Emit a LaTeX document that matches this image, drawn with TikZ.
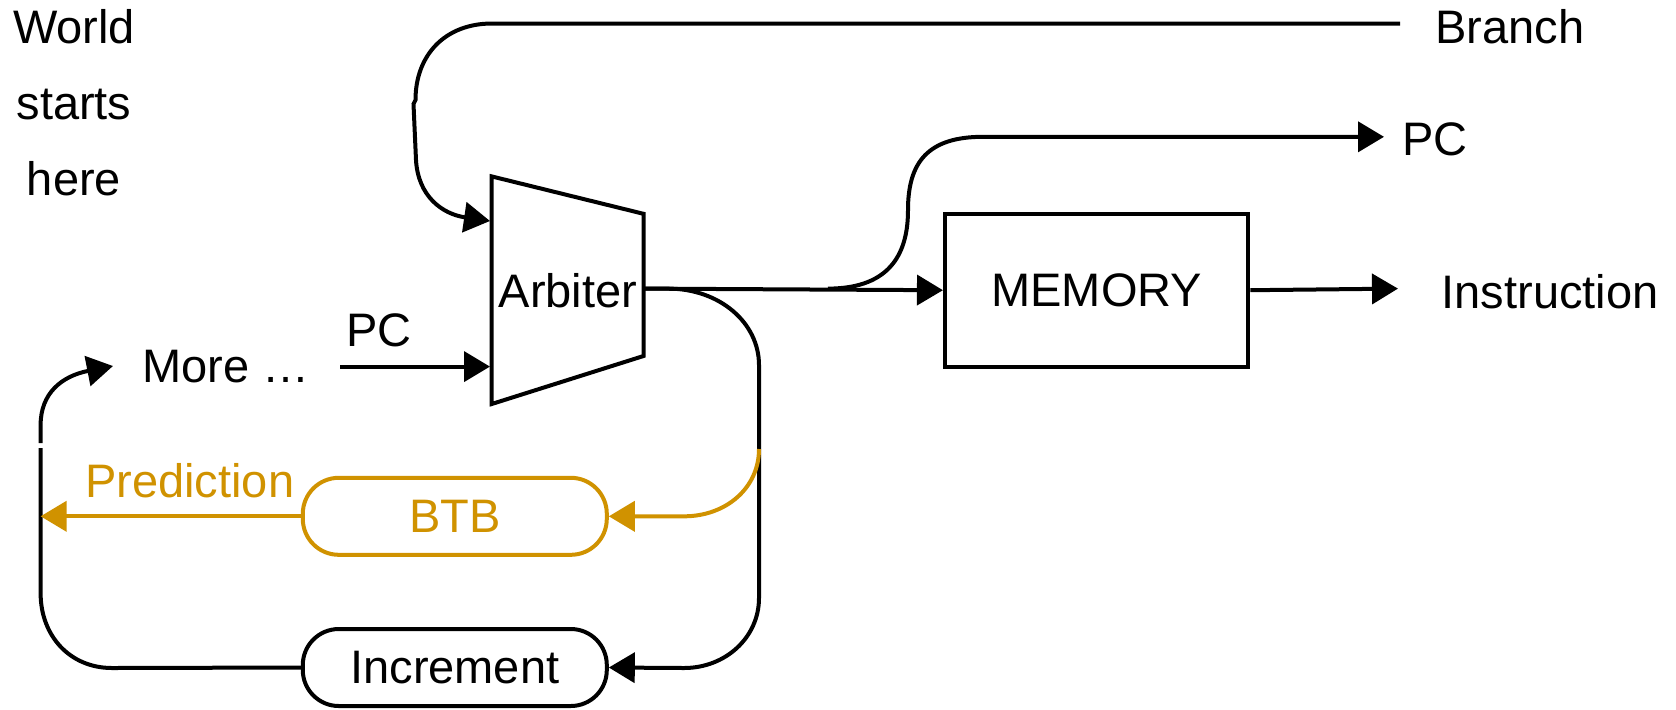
\documentclass[tikz,border=0pt]{standalone}
\usepackage{fontspec}
\setmainfont{Liberation Sans}
\usetikzlibrary{arrows.meta}
\definecolor{btborange}{RGB}{208,146,0}
\begin{document}
\begin{tikzpicture}[x=0.5pt,y=-0.5pt,
  wire/.style={line width=2pt},
  arr/.style={wire,-{Triangle[length=13pt,width=15pt]}},
  lbl/.style={font=\fontsize{23.5}{38}\selectfont, inner sep=0pt},
  pill/.style={draw, line width=2pt, rounded corners=18pt, minimum width=152pt,
    minimum height=38.5pt, inner sep=0pt, font=\fontsize{23.5}{28}\selectfont},
  block/.style={draw, line width=2pt, minimum width=151.75pt, minimum height=76.4pt,
    inner sep=0pt, font=\fontsize{23.5}{28}\selectfont},
]
\useasboundingbox (0,0) rectangle (1676,709);

% text labels
\node[lbl, align=center] (world) at (74,103) {World\\starts\\here};
\node[lbl] (branch) at (1510,27) {Branch};
\node[lbl] (pcout) at (1435,139.5) {PC};
\node[lbl] (instr) at (1550,291.5) {Instruction};
\node[lbl] (pcin) at (379,330) {PC};
\node[lbl] (more) at (226,367) {More …};
\node[lbl, text=btborange] (pred) at (189.7,480.5) {Prediction};

% arbiter (trapezoid)
\coordinate (aTL) at (491.7,176.4);
\coordinate (aTR) at (643.5,213.8);
\coordinate (aBR) at (643.5,356);
\coordinate (aBL) at (491.7,404);
\draw[wire, line join=miter] (aTL) -- (aTR) -- (aBR) -- (aBL) -- cycle;
\node[lbl] (arb) at (568,290.7) {Arbiter};
\coordinate (arbInB) at (490,221);
\coordinate (arbInPC) at (490,366.6);
\coordinate (arbOut) at (643.5,288.6);

% blocks
\node[block] (mem) at (1096.7,290.2) {MEMORY};
\node[pill, draw=btborange, text=btborange] (btb) at (454.8,516.3) {BTB};
\node[pill] (inc) at (454.8,667.5) {Increment};

% free ends
\coordinate (bEnd) at (1400,23.5);
\coordinate (pcStart) at (340,366.6);
\coordinate (pcOutEnd) at (1384,136.8);
\coordinate (instrEnd) at (1398,288.6);
\coordinate (predEnd) at (40.6,516.3);
\coordinate (moreEnd) at (113,366);

% branch feedback into the arbiter
\draw[arr] (bEnd) -- (492,23.5)
  .. controls (445,23.5) and (415.5,55) .. (415.5,100)
  -- (413.5,104) -- (416,160)
  .. controls (418,196) and (442,214) .. (arbInB);

% PC input
\draw[arr] (pcStart) -- (arbInPC);

% arbiter to memory, and PC tap
\draw[arr] (arbOut) -- (mem.west);
\draw[arr] (828,288.6) .. controls (893,288.6) and (908,250) .. (908,210)
  .. controls (908,162) and (928,136.8) .. (983,136.8) -- (pcOutEnd);

% memory to instruction
\draw[arr] (mem.east) -- (instrEnd);

% loop down to increment
\draw[arr] (arbOut) -- (668,288.6)
  .. controls (720,288.6) and (759,323) .. (759,365)
  -- (759,598)
  .. controls (759,637) and (726,668) .. (684,668) -- (inc.east);

% increment back up towards "More ..."
\draw[wire] (inc.west) -- (112,668)
  .. controls (70,668) and (40.6,636) .. (40.6,593) -- (40.6,448);
\draw[arr] (40.6,443) -- (40.6,425)
  .. controls (40.6,393) and (62,376) .. (moreEnd);

% BTB prediction path
\draw[arr, btborange] (759,449) .. controls (759,488) and (726,516.3) .. (684,516.3) -- (btb.east);
\draw[arr, btborange] (btb.west) -- (predEnd);
\end{tikzpicture}
\end{document}
